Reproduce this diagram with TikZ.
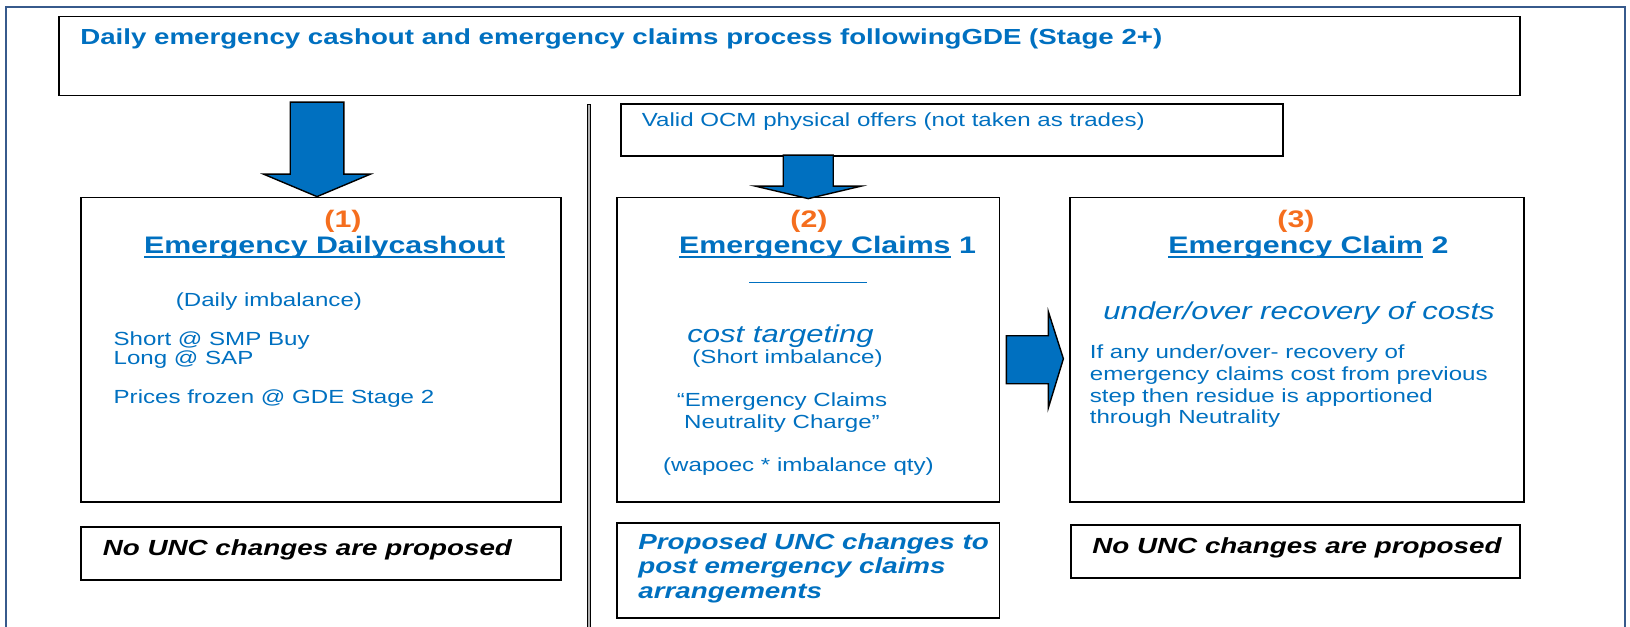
\documentclass[tikz,border=0pt]{standalone}
\usepackage{fontspec}
\setmainfont{Liberation Sans}[FakeStretch=1.27]
\usetikzlibrary{calc}
\definecolor{ngblue}{RGB}{0,112,192}
\definecolor{ngorange}{RGB}{245,110,30}
\definecolor{framec}{RGB}{55,90,140}
\newcommand{\ulbox}[1]{\setbox0\hbox{#1}\rlap{\vrule height -1.6pt depth 2.6pt width \wd0}\box0\relax}

\begin{document}
\begin{tikzpicture}[
	txt/.style={text=ngblue, font=\fontsize{10.8}{11.2}\selectfont, inner sep=0pt},
	head/.style={text=ngblue, font=\fontsize{13.6}{15}\selectfont\bfseries, inner sep=0pt},
	num/.style={text=ngorange, font=\fontsize{13.6}{15}\selectfont\bfseries, inner sep=0pt},
	bigit/.style={text=ngblue, font=\fontsize{13.9}{15}\selectfont\itshape, inner sep=0pt},
	note/.style={font=\fontsize{12.45}{14}\selectfont\bfseries\itshape, inner sep=0pt},
	blockarrow/.style={fill=ngblue, draw=black, line width=0.8pt, line join=miter}]
	\useasboundingbox (0,0) rectangle (32.6,-12.54);
	\draw[framec, line width=1pt] (0.124,-13) |- (32.50,-0.146) -- (32.50,-13);
	\begin{scope} [every node/.style={draw, line width=1pt, inner sep=0pt}]
		\node[minimum width=29.22cm, minimum height=1.58cm] (top) at (15.79,-1.12){};
		\node[minimum width=13.24cm, minimum height=1.04cm] (ocm) at (19.04,-2.60){};
		\node[minimum width=9.6cm, minimum height=6.09cm] (box1) at (6.42,-6.995){};
		\node[minimum width=7.65cm, minimum height=6.09cm] (box2) at (16.165,-6.995){};
		\node[minimum width=9.08cm, minimum height=6.09cm] (box3) at (25.94,-6.995){};
		\node[minimum width=9.6cm, minimum height=1.06cm] (note1) at (6.42,-11.07){};
		\node[minimum width=7.65cm, minimum height=1.9cm] (note2) at (16.165,-11.41){};
		\node[minimum width=8.98cm, minimum height=1.06cm] (note3) at (25.91,-11.03){};
	\end{scope}
	\draw[fill=gray!60, line width=0.4pt] (11.75,-2.08) rectangle (11.81,-12.7);
	\node[txt, font=\fontsize{12.4}{14}\selectfont\bfseries, anchor=west] (title) at (1.60,-0.78) {Daily emergency cashout and emergency claims process followingGDE (Stage 2+)};
	\node[txt, anchor=west] (offers) at (12.83,-2.43) {Valid OCM physical offers (not taken as trades)};
	\draw[blockarrow] ($(box1.north)+(-0.616,1.89)$) -- ($(box1.north)+(0.456,1.89)$) -- ($(box1.north)+(0.456,0.45)$) -- ($(box1.north)+(0.99,0.45)$) -- ($(box1.north)+(-0.08,0)$) -- ($(box1.north)+(-1.15,0.45)$) -- ($(box1.north)+(-0.616,0.45)$) -- cycle;
	\draw[blockarrow] ($(box2.north)+(-0.5,0.83)$) -- ($(box2.north)+(0.5,0.83)$) -- ($(box2.north)+(0.5,0.21)$) -- ($(box2.north)+(1.06,0.21)$) -- ($(box2.north)+(0,-0.04)$) -- ($(box2.north)+(-1.06,0.21)$) -- ($(box2.north)+(-0.5,0.21)$) -- cycle;
	\draw[blockarrow] ($(box2.east)+(0.12,0.28)$) -- ($(box2.east)+(0.96,0.28)$) -- ($(box2.east)+(0.96,0.76)$) -- ($(box2.east)+(1.26,-0.18)$) -- ($(box2.east)+(0.96,-1.16)$) -- ($(box2.east)+(0.96,-0.68)$) -- ($(box2.east)+(0.12,-0.68)$) -- cycle;
	\node[num] (n1) at (6.86,-4.42) {(1)};
	\node[head] (h1) at (6.49,-4.95) {\ulbox{Emergency Dailycashout}};
	\node[txt, anchor=west] (d1) at (3.51,-6.03) {(Daily imbalance)};
	\node[txt, anchor=west, align=left] (sl) at (2.266,-7.0) {Short @ SMP Buy\\Long @ SAP};
	\node[txt, anchor=west] (pf) at (2.266,-7.98) {Prices frozen @ GDE Stage 2};
	\node[num] (n2) at (16.18,-4.42) {(2)};
	\node[head] (h2) at (16.55,-4.95) {\ulbox{Emergency Claims} 1};
	\draw[ngblue, line width=1pt] (14.98,-5.65) -- (17.33,-5.65);
	\node[bigit] (ct) at (15.61,-6.73) {cost targeting};
	\node[txt] (si) at (15.75,-7.18) {(Short imbalance)};
	\node[txt, align=center, font=\fontsize{10.8}{12.5}\selectfont] (nc) at (15.64,-8.26) {“Emergency Claims\\Neutrality Charge”};
	\node[txt] (wq) at (15.97,-9.33) {(wapoec * imbalance qty)};
	\node[num] (n3) at (25.92,-4.42) {(3)};
	\node[head] (h3) at (26.17,-4.95) {\ulbox{Emergency Claim} 2};
	\node[bigit] (uo) at (25.98,-6.26) {under/over recovery of costs};
	\node[txt, anchor=west, align=left, font=\fontsize{10.8}{12.4}\selectfont] (res) at (21.79,-7.726) {If any under/over- recovery of\\emergency claims cost from previous\\step then residue is apportioned\\through Neutrality};
	\node[note, anchor=west] (t1) at (2.05,-11.0) {No UNC changes are proposed};
	\node[note, text=ngblue, anchor=west, align=left] (t2) at (12.76,-11.36) {Proposed UNC changes to\\post emergency claims\\arrangements};
	\node[note, anchor=west] (t3) at (21.84,-10.95) {No UNC changes are proposed};
\end{tikzpicture}
\end{document}
